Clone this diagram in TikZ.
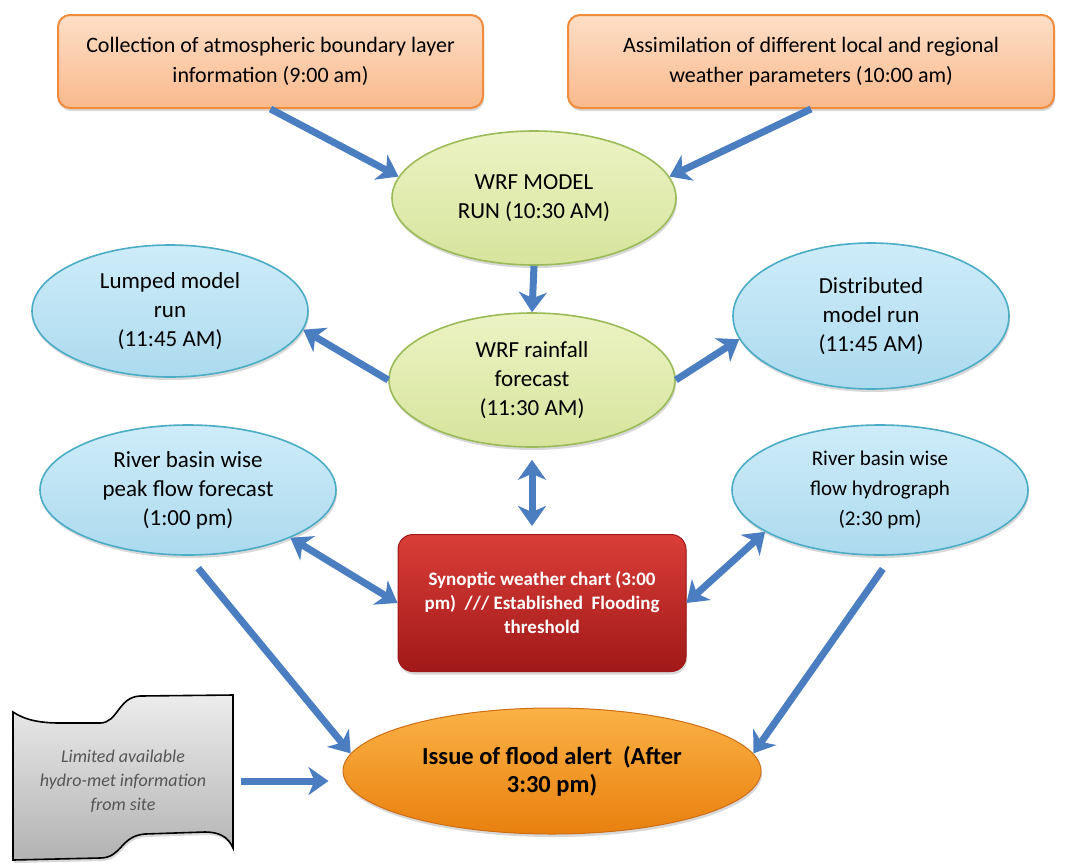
\documentclass[tikz,border=0pt]{standalone}
\usepackage{fontspec}
\setmainfont{Carlito}
\usetikzlibrary{shapes.geometric,arrows.meta,shadows}
\definecolor{arrblue}{RGB}{74,126,193}
\definecolor{orB}{RGB}{240,140,60}
\definecolor{peachT}{RGB}{253,222,198}
\definecolor{peachB}{RGB}{249,185,140}
\definecolor{grB}{RGB}{155,187,89}
\definecolor{grT}{RGB}{236,243,196}
\definecolor{grBot}{RGB}{214,228,156}
\definecolor{blB}{RGB}{75,172,198}
\definecolor{blT}{RGB}{206,236,249}
\definecolor{blBot}{RGB}{172,218,238}
\definecolor{redT}{RGB}{218,62,56}
\definecolor{redB}{RGB}{160,24,24}
\definecolor{flT}{RGB}{251,178,70}
\definecolor{flB}{RGB}{232,128,14}
\definecolor{flD}{RGB}{205,110,20}
\definecolor{gyT}{RGB}{236,236,236}
\definecolor{gyB}{RGB}{178,178,178}
\definecolor{gtext}{RGB}{85,85,85}
\begin{document}
\begin{tikzpicture}[x=1pt,y=-1pt,
  shad/.style={drop shadow={opacity=0.3,shadow xshift=1pt,shadow yshift=-3pt}},
  topbox/.style={rectangle, rounded corners=12pt, draw=orB, line width=2pt,
    top color=peachT, bottom color=peachB, align=center, inner sep=0pt,
    font=\fontsize{22}{30}\selectfont, shad},
  greenell/.style={ellipse, draw=grB, line width=1.6pt, top color=grT, bottom color=grBot,
    inner sep=0pt, align=center, font=\fontsize{23}{29}\selectfont, shad},
  blueell/.style={ellipse, draw=blB, line width=1.6pt, top color=blT, bottom color=blBot,
    inner sep=0pt, align=center, font=\fontsize{23}{29}\selectfont, shad},
  redbox/.style={rectangle, rounded corners=15pt, draw=redB, line width=1pt,
    top color=redT, bottom color=redB, text=white, align=center, inner sep=0pt,
    font=\bfseries\fontsize{19}{24}\selectfont, shad},
  floodell/.style={ellipse, draw=flD, line width=1pt, top color=flT, bottom color=flB,
    inner sep=0pt, align=center, font=\bfseries\fontsize{24.5}{28}\selectfont, shad},
  limtext/.style={rectangle, inner sep=0pt, align=center, text=gtext,
    font=\itshape\fontsize{18}{24}\selectfont},
  arr/.style={draw=arrblue, line width=7pt, -{Stealth[length=20pt,width=28pt,inset=6pt]}},
  darr/.style={draw=arrblue, line width=7pt,
    {Stealth[length=20pt,width=28pt,inset=6pt]}-{Stealth[length=20pt,width=28pt,inset=6pt]}}
]
\useasboundingbox (0,0) rectangle (1070,865);
\fill[white] (0,0) rectangle (1070,865);

% nodes
\node[topbox, minimum width=425pt, minimum height=93pt] (tl) at (270.5,61.5)
  {Collection of atmospheric boundary layer\\information (9:00 am)};
\node[topbox, minimum width=486pt, minimum height=93pt] (tr) at (811,61.5)
  {Assimilation of different local and regional\\weather parameters (10:00 am)};

\node[greenell, minimum width=284pt, minimum height=134pt] (wrf) at (534,198)
  {WRF MODEL\\RUN (10:30 AM)};
\node[greenell, minimum width=286pt, minimum height=134pt] (rain) at (532,380)
  {WRF rainfall\\forecast\\(11:30 AM)};

\node[blueell, minimum width=276pt, minimum height=132pt] (lump) at (170,311)
  {Lumped model\\run\\(11:45 AM)};
\node[blueell, minimum width=276pt, minimum height=146pt] (dist) at (871,316)
  {Distributed\\model run\\(11:45 AM)};
\node[blueell, minimum width=296pt, minimum height=130pt] (peak) at (188,490)
  {River basin wise\\peak flow forecast\\(1:00 pm)};
\node[blueell, minimum width=296pt, minimum height=130pt,
  font=\fontsize{21}{30}\selectfont] (hydro) at (880,490)
  {River basin wise\\flow hydrograph\\(2:30 pm)};

\node[redbox, minimum width=288pt, minimum height=137pt] (syn) at (542,603)
  {Synoptic weather chart (3:00\\pm)\ \ /// Established\ \ Flooding\\threshold};

\node[floodell, minimum width=418pt, minimum height=126pt] (flood) at (552,771)
  {Issue of flood alert\ \ (After\\3:30 pm)};

% tape-like document shape
\path[draw=black, line width=1.6pt, top color=gyT, bottom color=gyB, shad]
  (13,712) .. controls (25,720) and (40,723) .. (60,723) -- (100,723)
  .. controls (118,723) and (118,697) .. (140,696) -- (233,695) -- (233,848)
  .. controls (228,836) and (218,832) .. (205,832) -- (145,834)
  .. controls (120,836) and (122,858) .. (100,858) -- (13,860) -- cycle;
\node[limtext, minimum width=220pt] (lim) at (123,781)
  {Limited available\\hydro-met information\\from site};

% connectors
\draw[arr] (tl.south) -- (wrf.171);
\draw[arr] (tr.south) -- (wrf.9);
\draw[arr] (wrf.south) -- (rain.north);
\draw[arr] (rain.west) -- (lump.-8);
\draw[arr] (rain.east) -- (dist.190);
\draw[darr, shorten <=12pt, shorten >=8pt] (rain.south) -- (rain.south |- syn.north);
\draw[darr] (peak.-25) -- (syn.west);
\draw[darr] (hydro.200) -- (syn.east);
\draw[arr, shorten <=16pt] (peak.south) -- (flood.175);
\draw[arr, shorten <=16pt] ([xshift=12pt]hydro.south) -- (flood.5);
\draw[arr, shorten <=8pt, shorten >=14pt] (lim.east) -- (lim.east -| flood.west);
\end{tikzpicture}
\end{document}
